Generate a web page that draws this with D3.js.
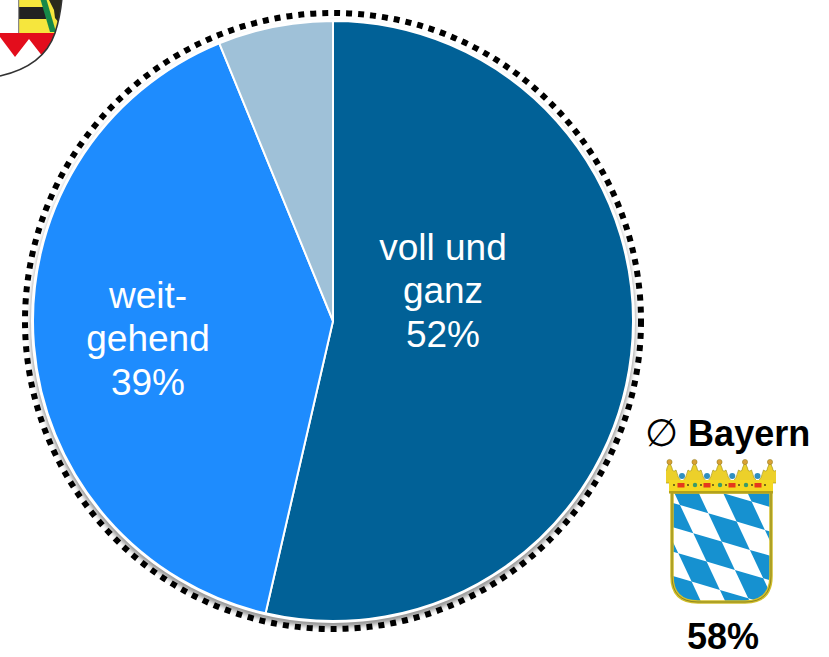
<!DOCTYPE html>
<html>
<head>
<meta charset="utf-8">
<script src="https://cdn.jsdelivr.net/npm/d3@7"></script>
<style>
  html, body { margin: 0; padding: 0; background: #fff; }
  svg { display: block; }
  text { font-family: "Liberation Sans", Arial, sans-serif; }
</style>
</head>
<body>
<div id="chart"></div>
<script>
const sliceValues = [52, 39, 6];
const sliceColors = ['#016197', '#1e8cfe', '#9fc1d8'];
const sliceLabels = [['voll und', 'ganz'], ['weit-', 'gehend'], []];
const bayernValue = 58;

const width = 829, height = 657;
const cx = 333, cy = 321, radius = 300;

const svg = d3.select('#chart').append('svg')
    .attr('width', width)
    .attr('height', height);

const defs = svg.append('defs');
defs.append('filter').attr('id', 'soft')
    .attr('x', '-5%').attr('y', '-5%').attr('width', '110%').attr('height', '110%')
    .append('feGaussianBlur').attr('stdDeviation', 2);
defs.append('filter').attr('id', 'raster')
    .append('feGaussianBlur').attr('stdDeviation', 0.4);

// ─── Pie ──────────────────────────────────────────────────────────────────
const pieG = svg.append('g').attr('transform', `translate(${cx},${cy})`);

// soft shadow behind the ring, only shows on the lower half
pieG.append('circle')
    .attr('cy', 4)
    .attr('r', radius + 2.5)
    .attr('fill', '#999')
    .attr('filter', 'url(#soft)');
pieG.append('circle')
    .attr('r', radius + 2)
    .attr('fill', '#fff');

const pie = d3.pie().sort(null)(sliceValues);
const arc = d3.arc().innerRadius(0).outerRadius(radius);

pieG.selectAll('.slice')
    .data(pie)
    .enter().append('path')
    .attr('class', 'slice')
    .attr('d', arc)
    .attr('fill', (d, i) => sliceColors[i])
    .attr('stroke', '#fff')
    .attr('stroke-width', 2)
    .attr('stroke-linejoin', 'round');

pieG.append('circle')
    .attr('r', radius + 8)
    .attr('fill', 'none')
    .attr('stroke', '#000')
    .attr('stroke-width', 6)
    .attr('stroke-dasharray', '6,6');

// label centres, relative to the pie centre
const labelPos = [[110, -30], [-185, 18]];
const LINE_H = 43.5;
sliceLabels.forEach((lines, i) => {
    if (!lines.length) return;
    const all = lines.concat(sliceValues[i] + '%');
    const t = pieG.append('text')
        .attr('text-anchor', 'middle')
        .attr('fill', '#fff')
        .attr('font-size', 37);
    all.forEach((s, k) => {
        t.append('tspan')
            .attr('x', labelPos[i][0])
            .attr('y', labelPos[i][1] + (k - 1) * LINE_H + 12)
            .text(s);
    });
});

// ─── Bayern side note ─────────────────────────────────────────────────────
const note = svg.append('text')
    .attr('x', 645).attr('y', 446)
    .attr('font-size', 36)
    .attr('font-weight', 'bold');
note.append('tspan').attr('font-weight', 'normal').attr('font-family', 'DejaVu Sans').attr('font-size', 38).text('∅');
note.append('tspan').text(' Bayern');

svg.append('text')
    .attr('x', 723).attr('y', 649)
    .attr('text-anchor', 'middle')
    .attr('font-size', 36)
    .attr('font-weight', 'bold')
    .text(bayernValue + '%');

// ─── Bavarian crest ───────────────────────────────────────────────────────
const shieldPath = 'M672,492 L771,492 L771,576 Q771,602 745,602 L698,602 Q672,602 672,576 Z';
defs.append('clipPath').attr('id', 'shield').append('path').attr('d', shieldPath);
defs.append('clipPath').attr('id', 'crownClip').append('rect')
    .attr('x', 666).attr('y', 456).attr('width', 110).attr('height', 40);

const crest = svg.append('g').attr('filter', 'url(#raster)');
crest.append('path').attr('d', shieldPath).attr('fill', '#fff');

const lozenges = crest.append('g').attr('clip-path', 'url(#shield)');
const ox = 680, oy = 505, ux = 28.3, uy = 8.3, vx = 13.3, vy = 28.3;
for (let i = -4; i <= 5; i++) {
    for (let j = -3; j <= 5; j++) {
        if ((i + j + 8) % 2 === 0) continue;
        const x = ox + i * ux + j * vx, y = oy + i * uy + j * vy;
        lozenges.append('path')
            .attr('d', `M${x},${y} l${ux},${uy} l${vx},${vy} l${-ux},${-uy} Z`)
            .attr('fill', '#1591d0');
    }
}
crest.append('path').attr('d', shieldPath)
    .attr('fill', 'none').attr('stroke', '#d2bf2c').attr('stroke-width', 3.5);
crest.append('path').attr('d', shieldPath)
    .attr('fill', 'none').attr('stroke', '#6f6a1c').attr('stroke-width', 0.7);

// crown
const crownPts = [669.5, 694.5, 719.5, 745, 770];
const crownG = crest.append('g').attr('clip-path', 'url(#crownClip)');
crownPts.forEach(x => {
    crownG.append('path')
        .attr('d', `M${x - 13},483 Q${x - 8},478 ${x - 6.5},470 Q${x - 3},473 ${x - 2.5},468 L${x},462 L${x + 2.5},468 Q${x + 3},473 ${x + 6.5},470 Q${x + 8},478 ${x + 13},483 Z`)
        .attr('fill', '#ecd02a').attr('stroke', '#a8961a').attr('stroke-width', 0.7);
    crownG.append('circle').attr('cx', x).attr('cy', 462).attr('r', 2.6)
        .attr('fill', '#d9a035').attr('stroke', '#8d7a18').attr('stroke-width', 0.5);
});
crownPts.slice(0, -1).forEach((x, i) => {
    const mid = (x + crownPts[i + 1]) / 2;
    crownG.append('circle').attr('cx', mid).attr('cy', 476).attr('r', 3).attr('fill', '#2f8fc0');
});
crownG.append('rect').attr('x', 669).attr('y', 480).attr('width', 104).attr('height', 12).attr('fill', '#f4d822');
crownG.append('rect').attr('x', 669).attr('y', 491).attr('width', 104).attr('height', 2.5).attr('fill', '#b3a21c');
[681, 707, 732, 758].forEach(x => {
    crownG.append('rect').attr('x', x - 3.5).attr('y', 483).attr('width', 7).attr('height', 4.5).attr('fill', '#e5391c');
});
[695, 720, 746].forEach(x => {
    crownG.append('circle').attr('cx', x).attr('cy', 485).attr('r', 2.2).attr('fill', '#3a9a6a');
});
[674, 688, 701, 713, 726, 739, 752, 765].forEach(x => {
    crownG.append('circle').attr('cx', x).attr('cy', 485).attr('r', 0.9).attr('fill', '#3d3a10');
});

// ─── Cropped district crest, top left ─────────────────────────────────────
const kreis = svg.append('g').attr('filter', 'url(#raster)');
const kreisOutline = 'M-2,-2 L62,-2 Q60,18 55,33 Q44,66 0,76 L-2,76 Z';
defs.append('clipPath').attr('id', 'kreis').append('path').attr('d', kreisOutline);
const kreisIn = kreis.append('g').attr('clip-path', 'url(#kreis)');
kreisIn.append('path').attr('d', kreisOutline).attr('fill', '#fff');
kreisIn.append('rect').attr('x', 19).attr('y', -2).attr('width', 45).attr('height', 35).attr('fill', '#f6e63c');
kreisIn.append('rect').attr('x', 19).attr('y', 7).attr('width', 27).attr('height', 12).attr('fill', '#222');
kreisIn.append('path').attr('d', 'M48,-2 L63,-2 L60,24 L55,18 L54,10 Z').attr('fill', '#2a2a1c');
kreisIn.append('path').attr('d', 'M40,-2 L46,-2 L56,32 L50,32 Z').attr('fill', '#17894a');
kreisIn.append('rect').attr('x', 18).attr('y', -2).attr('width', 1.2).attr('height', 35).attr('fill', '#888');
kreisIn.append('path').attr('d', 'M0,33 L56,33 L43,57 L29,39 L15,57 L0,37 Z').attr('fill', '#e3101e');
kreis.append('path').attr('d', 'M62,-2 Q60,18 55,33 Q44,66 0,76')
    .attr('fill', 'none').attr('stroke', '#333').attr('stroke-width', 1.6);
</script>
</body>
</html>
